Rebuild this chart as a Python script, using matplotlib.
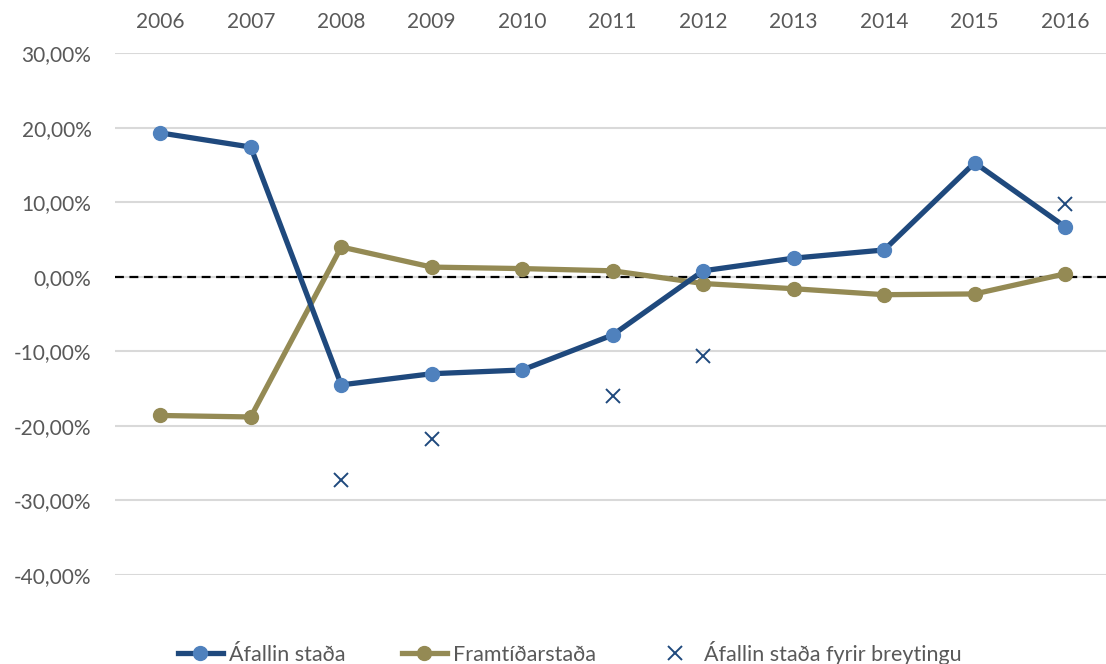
import numpy as np
import matplotlib
matplotlib.use("Agg")
import matplotlib.pyplot as plt
from matplotlib.ticker import FuncFormatter

years = ["2006", "2007", "2008", "2009", "2010", "2011", "2012", "2013", "2014", "2015", "2016"]
afallin = [19.3, 17.4, -14.5, -13.0, -12.5, -7.8, 0.8, 2.5, 3.6, 15.3, 6.7]
framtid = [-18.6, -18.8, 4.0, 1.3, 1.1, 0.8, -0.9, -1.6, -2.4, -2.3, 0.4]
fyrir = [np.nan, np.nan, -27.3, -21.7, np.nan, -16.0, -10.6, np.nan, np.nan, np.nan, 9.7]

plt.rcParams['font.family'] = ['Lato', 'DejaVu Sans']
txt = '#595959'

fig = plt.figure(figsize=(11.06, 6.64), dpi=100)
ax = fig.add_axes([0.104, 0.134, 0.9, 0.786])
x = np.arange(len(years))

for v in range(-40, 31, 10):
    ax.axhline(v, color='#d9d9d9', lw=1.5, zorder=0)
ax.axhline(0, color='black', lw=1.6, ls=(0, (4, 2.5)), zorder=1)

ax.plot(x, afallin, color='#1f497d', lw=3.8, marker='o', ms=10,
        mfc='#4f81bd', mec='#4f81bd', label='Áfallin staða', zorder=3)
ax.plot(x, framtid, color='#948a54', lw=3.8, marker='o', ms=10,
        mfc='#948a54', mec='#948a54', label='Framtíðarstaða', zorder=2)
ax.plot(x, fyrir, ls='none', marker='x', ms=10, mew=1.4, color='#1f497d',
        label='Áfallin staða fyrir breytingu', zorder=4)

ax.set_xlim(-0.5, len(years) - 0.5)
ax.set_ylim(-40, 30)
ax.set_yticks(range(-40, 31, 10))
ax.yaxis.set_major_formatter(FuncFormatter(lambda v, p: f"{v:.2f}%".replace('.', ',')))
ax.set_xticks(x)
ax.set_xticklabels(years)
ax.xaxis.tick_top()
ax.tick_params(axis='both', length=0, labelsize=15, colors=txt)
ax.tick_params(axis='x', pad=15)
ax.tick_params(axis='y', pad=17)
for s in ax.spines.values():
    s.set_visible(False)

leg = fig.legend(loc='lower center', bbox_to_anchor=(0.515, -0.03), ncol=3, frameon=False,
                 fontsize=15.5, handlelength=2.1, columnspacing=2.6, handletextpad=0.3)
for t in leg.get_texts():
    t.set_color(txt)

fig.savefig('out.png', dpi=100)
